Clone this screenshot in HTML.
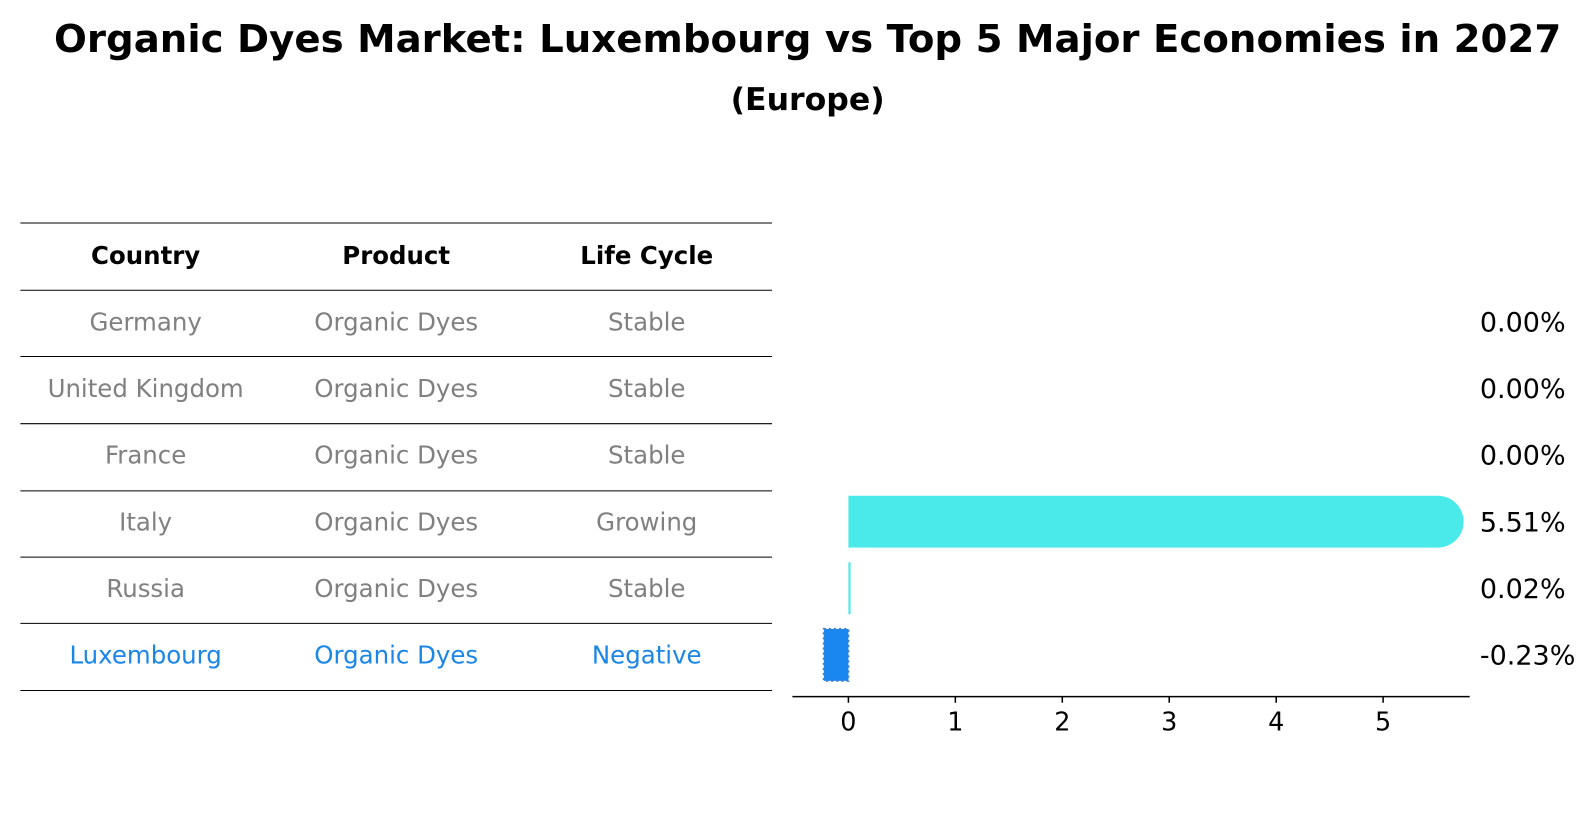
<!DOCTYPE html>
<html><head><meta charset="utf-8"><style>
body{margin:0;background:#fff;font-family:"Liberation Sans","DejaVu Sans",sans-serif;}
#c{position:relative;width:1596px;height:823px;overflow:hidden;}
</style></head><body>
<div id="c">
<svg id="s" width="1596" height="823" font-family="DejaVu Sans, Liberation Sans, sans-serif">
<g transform="scale(1.0185)">
<text x="793" y="51" text-anchor="middle" font-size="38" font-weight="bold">Organic Dyes Market: Luxembourg vs Top 5 Major Economies in 2027</text>
<text x="793" y="108" text-anchor="middle" font-size="31" font-weight="bold">(Europe)</text>
<g id="tbl"></g>
<g id="bars"></g>
</g>
</svg>
</div>
<script>
const countries=["Germany","United Kingdom","France","Italy","Russia","Luxembourg"];
const products=["Organic Dyes","Organic Dyes","Organic Dyes","Organic Dyes","Organic Dyes","Organic Dyes"];
const lifeCycles=["Stable","Stable","Stable","Growing","Stable","Negative"];
const values=[0.00,0.00,0.00,5.51,0.02,-0.23];
const xTicks=[0,1,2,3,4,5];
const NS="http://www.w3.org/2000/svg";
function mk(t,a,p){const e=document.createElementNS(NS,t);for(const k in a)e.setAttribute(k,a[k]);p.appendChild(e);return e;}
const tbl=document.getElementById('tbl'),bars=document.getElementById('bars');
const rowY=i=>316+i*65.4;
const colX=[143,389,635];
const lines=[219,285,350,416,482,547,612,678];
lines.forEach((y,i)=>{const l=mk('line',{x1:20,x2:758,y1:y,y2:y,stroke:'#000','stroke-width':1},tbl);

});
["Country","Product","Life Cycle"].forEach((h,j)=>{const t=mk('text',{x:colX[j],y:259,'text-anchor':'middle','font-size':24,'font-weight':'bold'},tbl);t.textContent=h;

});
countries.forEach((c,i)=>{const last=i===countries.length-1;const col=last?'#1a86e8':'#808080';
[c,products[i],lifeCycles[i]].forEach((v,j)=>{const t=mk('text',{x:colX[j],y:rowY(i)+8.5,'text-anchor':'middle','font-size':24,fill:col},tbl);t.textContent=v;

});});
const x0=833,ppu=105;const X=v=>x0+v*ppu;const bh=51;
values.forEach((v,i)=>{const y=rowY(i)-bh/2;const last=i===values.length-1;
const x1=Math.min(X(0),X(v)),w=Math.abs(X(v)-X(0));
let b;
if(last){b=mk('rect',{x:x1,y:y,width:w,height:bh,fill:'#1a86f0',stroke:'#3a7fd0','stroke-width':2,'stroke-dasharray':'2,3'},bars);}
else if(v>0.5){b=mk('path',{d:`M${x1},${y}H${x1+w}A${bh/2},${bh/2} 0 0 1 ${x1+w},${y+bh}H${x1}Z`,fill:'#4aeaea'},bars);}
else{b=mk('rect',{x:x1,y:y,width:Math.max(w,v>0?1.5:0),height:bh,fill:'#4aeaea'},bars);}


const t=mk('text',{x:1453,y:rowY(i)+9.5,'font-size':26.5},bars);t.textContent=v.toFixed(2)+'%';

});
const ax=mk('line',{x1:778,x2:1443,y1:684,y2:684,stroke:'#000','stroke-width':1.5},bars);


xTicks.forEach(v=>{const tk=mk('line',{x1:X(v),x2:X(v),y1:684,y2:690,stroke:'#000','stroke-width':1.5},bars);


const t=mk('text',{x:X(v),y:717,'text-anchor':'middle','font-size':25},bars);t.textContent=v;

});
</script>
</body></html>
